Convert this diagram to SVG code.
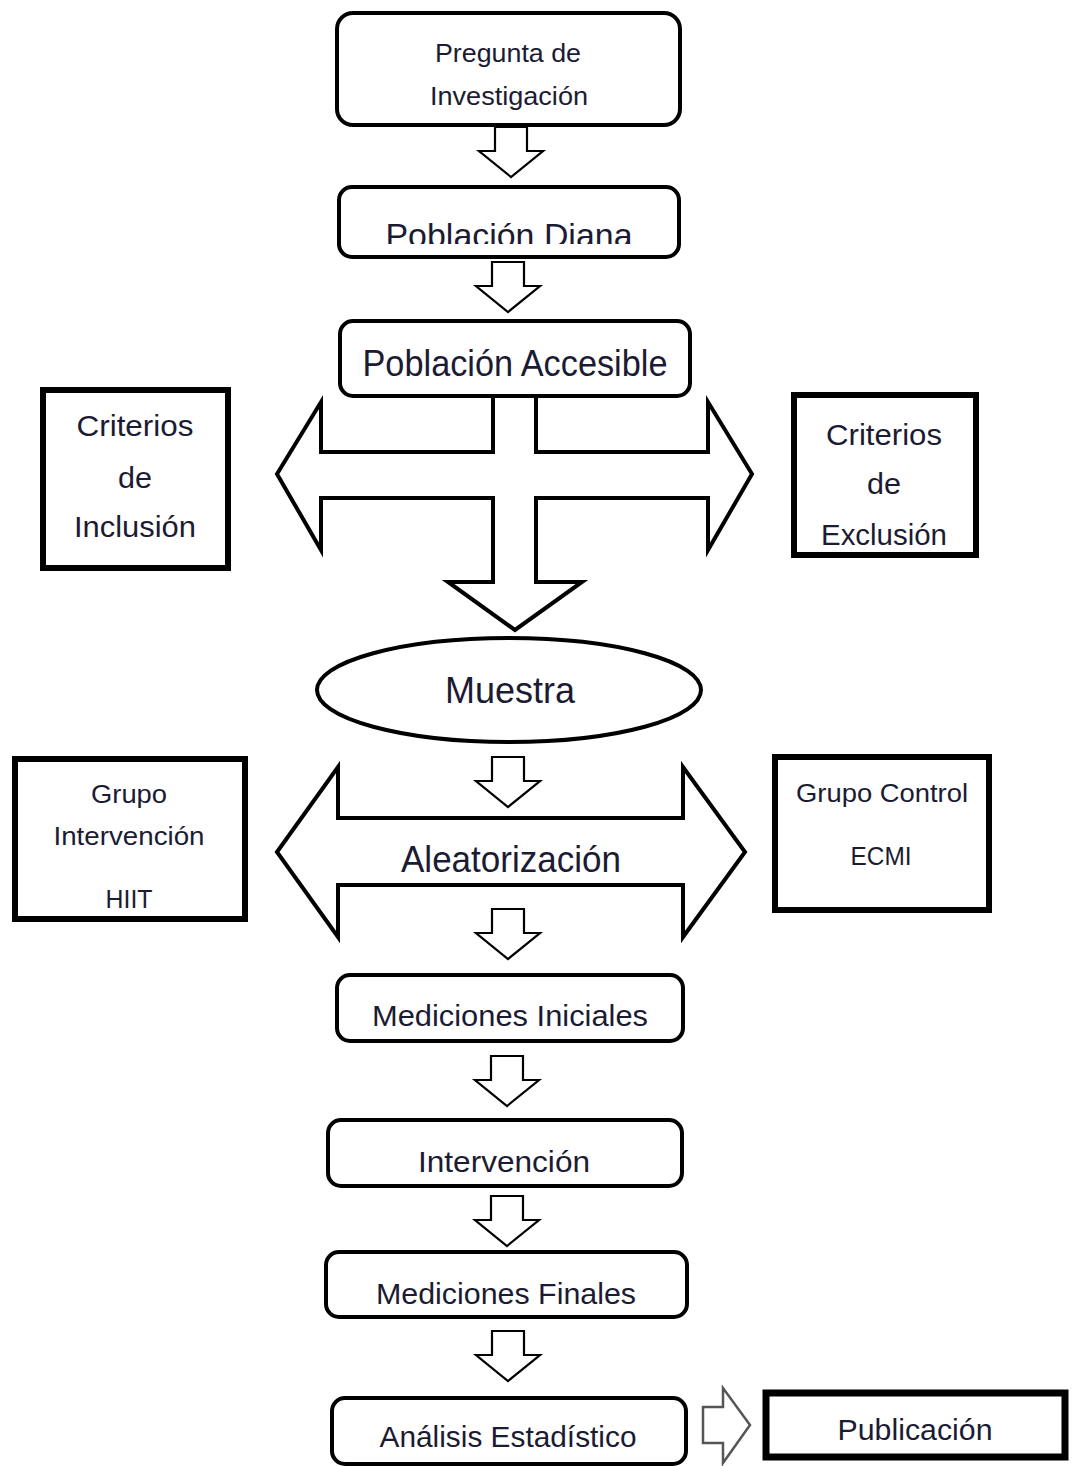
<svg xmlns="http://www.w3.org/2000/svg" width="1073" height="1466" viewBox="0 0 1073 1466">
<style>
.rbox{fill:#fff;stroke:#000;stroke-width:4}
.sbox{fill:#fff;stroke:#000;stroke-width:6}
.big{fill:#fff;stroke:#000;stroke-width:4;stroke-linejoin:miter}
.arr{fill:#fff;stroke:#000;stroke-width:2.2;stroke-linejoin:miter}
.garr{fill:#fff;stroke:#555;stroke-width:2.5}
text{font-family:"Liberation Sans",Arial,sans-serif;fill:#1b1b33;text-anchor:middle}
</style>
<defs>
<path id="down" d="M-16,0 H16 V24 H32 L0,50 L-32,24 H-16 Z"/>
<clipPath id="clipDiana"><rect x="339" y="187" width="340" height="57"/></clipPath>
</defs>
<rect width="1073" height="1466" fill="#fff"/>
<g id="connectors">
<path id="cross" class="big" d="M493,396 V452 H321 V402 L277,474 L321,550 V498 H493 V582 H448 L515,630 L582,582 H536 V498 H708 V550 L752,474 L708,402 V452 H536 V396"/>
<use href="#down" class="arr" x="511" y="127"/>
<use href="#down" class="arr" x="508" y="262"/>
<use href="#down" class="arr" x="508" y="757"/>
<use href="#down" class="arr" x="508" y="909"/>
<use href="#down" class="arr" x="507" y="1056"/>
<use href="#down" class="arr" x="507" y="1196"/>
<use href="#down" class="arr" x="508" y="1331"/>
<path class="garr" d="M703,1407 H723 V1388 L750,1425 L723,1463 V1443 H703 Z"/>
</g>
<g id="n-pregunta">
<rect class="rbox" x="337" y="13" width="343" height="112" rx="16"/>
<text x="508" y="62" font-size="25" textLength="146" lengthAdjust="spacingAndGlyphs">Pregunta de</text>
<text x="509" y="105" font-size="25" textLength="158" lengthAdjust="spacingAndGlyphs">Investigación</text>
</g>
<g id="n-diana">
<rect class="rbox" x="339" y="187" width="340" height="70" rx="13"/>
<text x="509" y="247" font-size="34" textLength="247" lengthAdjust="spacingAndGlyphs" clip-path="url(#clipDiana)">Población Diana</text>
</g>
<g id="n-accesible">
<rect class="rbox" x="340" y="321" width="350" height="75" rx="13"/>
<text x="515" y="376" font-size="36" textLength="305" lengthAdjust="spacingAndGlyphs">Población Accesible</text>
</g>
<g id="n-inclusion">
<rect class="sbox" x="43" y="390" width="185" height="178"/>
<text x="135" y="436" font-size="29" textLength="117" lengthAdjust="spacingAndGlyphs">Criterios</text>
<text x="135" y="488" font-size="29" textLength="34" lengthAdjust="spacingAndGlyphs">de</text>
<text x="135" y="537" font-size="29" textLength="122" lengthAdjust="spacingAndGlyphs">Inclusión</text>
</g>
<g id="n-exclusion">
<rect class="sbox" x="794" y="395" width="182" height="160"/>
<text x="884" y="445" font-size="29" textLength="116" lengthAdjust="spacingAndGlyphs">Criterios</text>
<text x="884" y="494" font-size="29" textLength="34" lengthAdjust="spacingAndGlyphs">de</text>
<text x="884" y="545" font-size="29" textLength="126" lengthAdjust="spacingAndGlyphs">Exclusión</text>
</g>
<g id="n-muestra">
<ellipse cx="509" cy="690" rx="192" ry="52" fill="#fff" stroke="#000" stroke-width="4"/>
<text x="510" y="703" font-size="36" textLength="130" lengthAdjust="spacingAndGlyphs">Muestra</text>
</g>
<g id="n-aleatorizacion">
<path class="big" d="M277,852 L338,767 V818 H683 V767 L745,852 L683,937 V885 H338 V937 Z"/>
<text x="511" y="872" font-size="37" textLength="220" lengthAdjust="spacingAndGlyphs">Aleatorización</text>
</g>
<g id="n-grupo-int">
<rect class="sbox" x="15" y="759" width="230" height="160"/>
<text x="129" y="803" font-size="25" textLength="76" lengthAdjust="spacingAndGlyphs">Grupo</text>
<text x="129" y="845" font-size="25" textLength="151" lengthAdjust="spacingAndGlyphs">Intervención</text>
<text x="129" y="908" font-size="25" textLength="47" lengthAdjust="spacingAndGlyphs">HIIT</text>
</g>
<g id="n-grupo-ctrl">
<rect class="sbox" x="775" y="757" width="214" height="153"/>
<text x="882" y="802" font-size="25" textLength="172" lengthAdjust="spacingAndGlyphs">Grupo Control</text>
<text x="881" y="865" font-size="25" textLength="61" lengthAdjust="spacingAndGlyphs">ECMI</text>
</g>
<g id="n-med-ini">
<rect class="rbox" x="337" y="975" width="346" height="66" rx="13"/>
<text x="510" y="1026" font-size="29" textLength="276" lengthAdjust="spacingAndGlyphs">Mediciones Iniciales</text>
</g>
<g id="n-intervencion">
<rect class="rbox" x="328" y="1120" width="354" height="66" rx="13"/>
<text x="504" y="1172" font-size="30" textLength="172" lengthAdjust="spacingAndGlyphs">Intervención</text>
</g>
<g id="n-med-fin">
<rect class="rbox" x="326" y="1252" width="361" height="65" rx="13"/>
<text x="506" y="1304" font-size="29" textLength="260" lengthAdjust="spacingAndGlyphs">Mediciones Finales</text>
</g>
<g id="n-analisis">
<rect class="rbox" x="332" y="1398" width="354" height="66" rx="13"/>
<text x="508" y="1447" font-size="29" textLength="257" lengthAdjust="spacingAndGlyphs">Análisis Estadístico</text>
</g>
<g id="n-publicacion">
<rect x="766" y="1393" width="299" height="64" fill="#fff" stroke="#000" stroke-width="7"/>
<text x="915" y="1440" font-size="29" textLength="155" lengthAdjust="spacingAndGlyphs">Publicación</text>
</g>
</svg>
